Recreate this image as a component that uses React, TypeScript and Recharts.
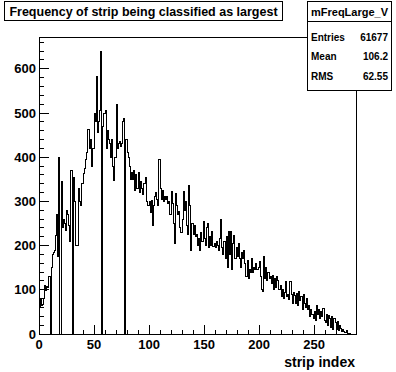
import React from 'react';
import { LineChart, Line, XAxis, YAxis, ReferenceArea } from 'recharts';

// Histogram bin contents, 288 strips (bin i covers [i, i+1))
const binCounts: number[] = [
  60, 78, 65, 66, 80, 110, 98, 108, 105, 130,
  0, 150, 180, 185, 190, 224, 270, 175, 400, 0,
  345, 240, 260, 250, 235, 280, 270, 246, 210, 370,
  0, 355, 300, 200, 200, 200, 330, 300, 290, 340,
  363, 375, 395, 410, 462, 462, 420, 440, 380, 420,
  500, 480, 582, 455, 480, 505, 640, 0, 470, 500,
  505, 420, 460, 440, 430, 400, 440, 380, 348, 400,
  520, 420, 430, 435, 425, 430, 480, 488, 0, 440,
  410, 400, 378, 350, 365, 350, 370, 325, 360, 330,
  365, 320, 345, 330, 315, 340, 340, 355, 300, 290,
  300, 275, 303, 246, 290, 310, 320, 305, 290, 394,
  330, 305, 325, 300, 310, 305, 312, 295, 300, 270,
  322, 295, 250, 205, 318, 290, 270, 277, 240, 230,
  260, 322, 280, 300, 245, 225, 335, 290, 190, 250,
  225, 245, 220, 225, 200, 215, 190, 230, 210, 254,
  215, 200, 240, 250, 195, 220, 200, 232, 198, 205,
  195, 210, 200, 190, 215, 258, 195, 180, 210, 170,
  220, 150, 231, 180, 231, 145, 205, 224, 170, 195,
  175, 205, 170, 150, 185, 170, 190, 160, 130, 167,
  125, 145, 140, 170, 140, 150, 145, 160, 145, 150,
  165, 130, 100, 96, 175, 125, 150, 120, 140, 125,
  130, 115, 133, 100, 125, 105, 130, 120, 100, 110,
  85, 100, 80, 95, 118, 85, 90, 78, 118, 90,
  70, 95, 88, 70, 92, 65, 96, 75, 85, 55,
  90, 70, 60, 80, 55, 65, 40, 55, 45, 35,
  50, 30, 65, 45, 55, 35, 50, 40, 58, 30,
  25, 45, 20, 42, 35, 15, 40, 10, 35, 25,
  10, 28, 8, 20, 12, 6, 10, 5, 3, 8,
  2, 2, 1, 0, 0, 0, 0, 0,
];

const xMin = 0;
const xMax = 288;
const yMax = 672;
const xTicks: number[] = [0, 10, 20, 30, 40, 50, 60, 70, 80, 90, 100, 110, 120, 130, 140, 150, 160, 170, 180, 190, 200, 210, 220, 230, 240, 250, 260, 270, 280];
const xMajor: number[] = [0, 50, 100, 150, 200, 250];
const yTicks: number[] = [0, 20, 40, 60, 80, 100, 120, 140, 160, 180, 200, 220, 240, 260, 280, 300, 320, 340, 360, 380, 400, 420, 440, 460, 480, 500, 520, 540, 560, 580, 600, 620, 640, 660];
const yMajor: number[] = [0, 100, 200, 300, 400, 500, 600];

const title = 'Frequency of strip being classified as largest';
const xTitle = 'strip index';
const statsName = 'mFreqLarge_V';
const statsLabels: string[] = ['Entries', 'Mean', 'RMS'];
const statsValues: string[] = ['61677', '106.2', '62.55'];

const FONT = '"Liberation Sans", Arial, Helvetica, sans-serif';

const data = binCounts
  .map((v, i) => ({ x: i, y: v }))
  .concat([{ x: xMax, y: binCounts[binCounts.length - 1] }]);

const PLOT_BOTTOM = 334;
const PLOT_LEFT = 39;

const XTick = (props: any) => {
  const { x, payload } = props;
  const y = PLOT_BOTTOM;
  const v = payload.value as number;
  const major = xMajor.includes(v);
  return (
    <g>
      <line x1={x} x2={x} y1={y} y2={y - (major ? 9 : 4.5)} stroke="#000" strokeWidth={1} shapeRendering="crispEdges" />
      {major && (
        <text x={x} y={y + 14.5} textAnchor="middle" fontFamily={FONT} fontWeight="bold" fontSize={13} fill="#000">
          {v}
        </text>
      )}
    </g>
  );
};

const YTick = (props: any) => {
  const { y, payload } = props;
  const x = PLOT_LEFT;
  const v = payload.value as number;
  const major = yMajor.includes(v);
  return (
    <g>
      <line x1={x} x2={x + (major ? 9.5 : 4.75)} y1={y} y2={y} stroke="#000" strokeWidth={1} shapeRendering="crispEdges" />
      {major && (
        <text x={x - 3} y={y + 4.6} textAnchor="end" fontFamily={FONT} fontWeight="bold" fontSize={13} fill="#000">
          {v}
        </text>
      )}
    </g>
  );
};

export default function App() {
  return (
    <div style={{ position: 'absolute', left: 0, top: 0, width: 396, height: 372, background: '#fff' }}>
      <LineChart
        width={396}
        height={372}
        data={data}
        margin={{ top: 37, right: 40, bottom: 0, left: 0 }}
      >
        <XAxis
          type="number"
          dataKey="x"
          domain={[xMin, xMax]}
          ticks={xTicks}
          interval={0}
          height={38}
          tickLine={false}
          tick={<XTick />}
          axisLine={{ stroke: '#000', shapeRendering: 'crispEdges' }}
          allowDataOverflow
        />
        <YAxis
          type="number"
          domain={[0, yMax]}
          ticks={yTicks}
          interval={0}
          width={39}
          tickLine={false}
          tick={<YTick />}
          axisLine={{ stroke: '#000', shapeRendering: 'crispEdges' }}
          allowDataOverflow
        />
        <ReferenceArea x1={xMin} x2={xMax} y1={0} y2={yMax} fill="none" stroke="#000" strokeWidth={1} ifOverflow="visible" shapeRendering="crispEdges" />
        <Line
          type="stepAfter"
          dataKey="y"
          stroke="#000"
          strokeWidth={1}
          dot={false}
          activeDot={false}
          isAnimationActive={false}
          shapeRendering="crispEdges"
        />
      </LineChart>
      <svg width={396} height={372} style={{ position: 'absolute', left: 0, top: 0, pointerEvents: 'none' }}>
        <text x={355} y={366.5} textAnchor="end" fontFamily={FONT} fontWeight="bold" fontSize={14} fill="#000">
          {xTitle}
        </text>
        <rect x={4.5} y={1.5} width={278} height={19} fill="#fff" stroke="#000" strokeWidth={1} />
        <text x={143.5} y={15.5} textAnchor="middle" fontFamily={FONT} fontWeight="bold" fontSize={12.5} fill="#000">
          {title}
        </text>
        <rect x={307.5} y={1.5} width={84} height={89} fill="#fff" stroke="#000" strokeWidth={1} />
        <line x1={307.5} x2={391.5} y1={21.5} y2={21.5} stroke="#000" strokeWidth={1} />
        <text x={349.5} y={16} textAnchor="middle" fontFamily={FONT} fontWeight="bold" fontSize={11} fill="#000">
          {statsName}
        </text>
        {statsLabels.map((lab, i) => (
          <g key={lab}>
            <text x={311} y={40.5 + i * 19.5} fontFamily={FONT} fontWeight="bold" fontSize={10} fill="#000">
              {lab}
            </text>
            <text x={388} y={40.5 + i * 19.5} textAnchor="end" fontFamily={FONT} fontWeight="bold" fontSize={10} fill="#000">
              {statsValues[i]}
            </text>
          </g>
        ))}
      </svg>
    </div>
  );
}
